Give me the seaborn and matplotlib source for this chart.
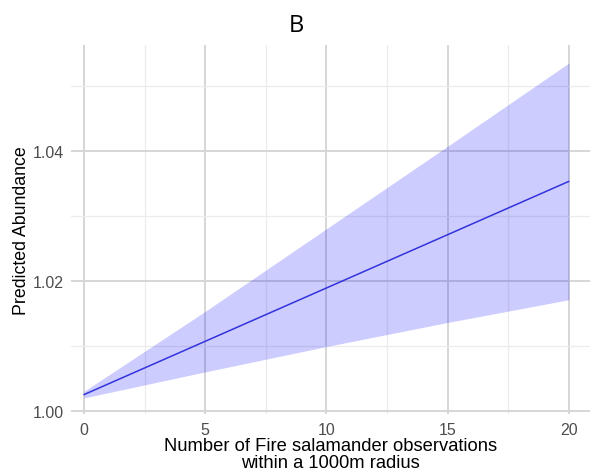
import matplotlib
matplotlib.use("Agg")
import matplotlib.pyplot as plt
import seaborn as sb
import pandas as pd
from matplotlib.ticker import MultipleLocator

observations = [0, 5, 10, 15, 20]
predicted = [1.0025, 1.0107, 1.0189, 1.0271, 1.0353]
ci_low = [1.0020, 1.0060, 1.0099, 1.0136, 1.0171]
ci_high = [1.0030, 1.0153, 1.0280, 1.0407, 1.0535]

df = pd.DataFrame({"x": observations, "y": predicted, "lo": ci_low, "hi": ci_high})

sb.set_theme(style="whitegrid")
plt.rcParams['font.family'] = ['Liberation Sans', 'DejaVu Sans']

fig = plt.figure(figsize=(5.9, 4.77), dpi=100)
ax = fig.add_axes([0.120, 0.131, 0.880, 0.773])

# semi-transparent ribbon so the grid shows through
ax.fill_between(df["x"], df["lo"], df["hi"], color="#0000ff", alpha=0.2, lw=0, zorder=2)
sb.lineplot(data=df, x="x", y="y", color="#3333dd", lw=1.1, ax=ax, zorder=3)

ax.set_xlim(-0.54, 20.87)
ax.set_ylim(0.9996, 1.0563)
ax.xaxis.set_major_locator(MultipleLocator(5))
ax.xaxis.set_minor_locator(MultipleLocator(2.5))
ax.yaxis.set_major_locator(MultipleLocator(0.02))
ax.yaxis.set_minor_locator(MultipleLocator(0.01))
ax.set_yticklabels([f"{v:.2f}" for v in ax.get_yticks()])
ax.grid(which="major", color="#d6d6d6", lw=1.4, zorder=1)
ax.grid(which="minor", color="#ececec", lw=0.9, zorder=1)
ax.set_axisbelow(True)
for s in ax.spines.values():
    s.set_visible(False)
ax.tick_params(axis="both", which="both", length=0, labelsize=11.5, labelcolor="#4d4d4d")
ax.tick_params(axis="x", pad=6)
ax.tick_params(axis="y", pad=5)

ax.set_xlabel("Number of Fire salamander observations\nwithin a 1000m radius", fontsize=13.2, color="black", labelpad=0, linespacing=1.0)
ax.set_ylabel("Predicted Abundance", fontsize=12.8, color="black", labelpad=2)

fig.text(0.503, 0.945, "B", ha="center", va="center", fontsize=17, color="black", family=["Open Sans", "DejaVu Sans"])

fig.savefig("out.png", dpi=100)
